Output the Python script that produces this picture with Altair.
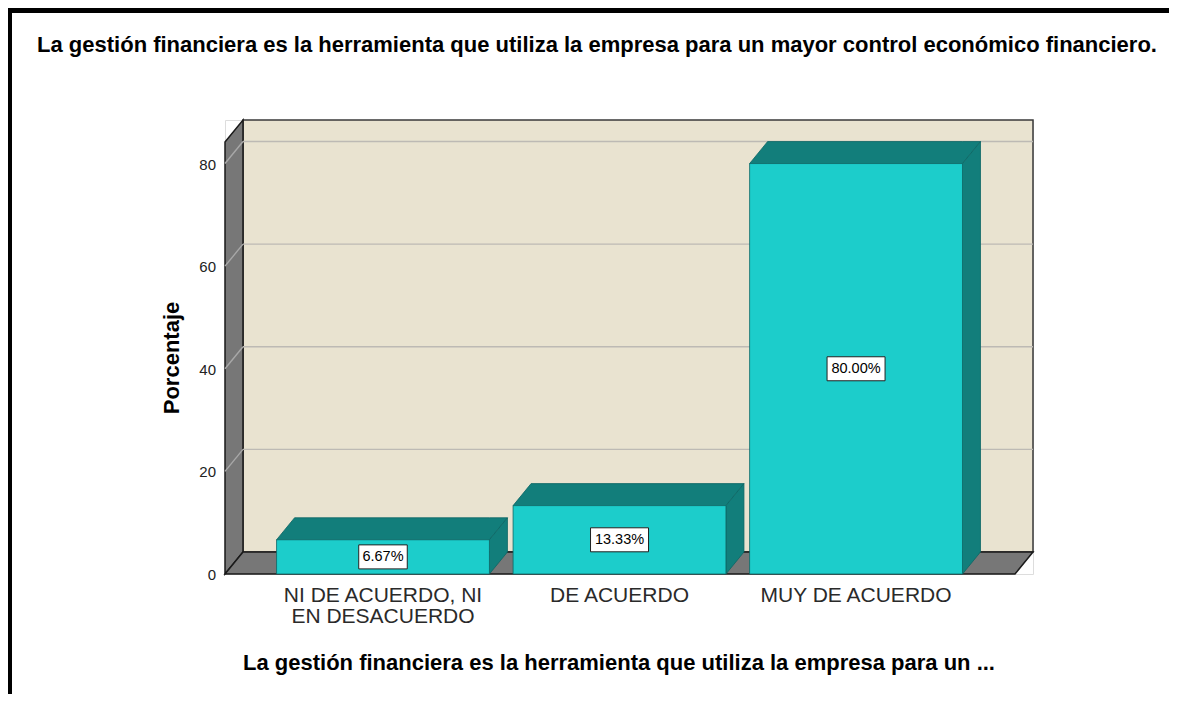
import textwrap
import altair as alt
import pandas as pd

# ---------------- data ----------------
categories = ["NI DE ACUERDO, NI EN DESACUERDO", "DE ACUERDO", "MUY DE ACUERDO"]
percentages = [6.67, 13.33, 80.00]
value_labels = ["6.67%", "13.33%", "80.00%"]
y_ticks = [0, 20, 40, 60, 80]

TITLE = "La gestión financiera es la herramienta que utiliza la empresa para un mayor control económico financiero."
X_TITLE = "La gestión financiera es la herramienta que utiliza la empresa para un ..."
Y_TITLE = "Porcentaje"

FONT = "Liberation Sans"

# ---------------- geometry (scale units) ----------------
STEP = 236.5          # px per category step
PXY = 5.13            # px per percent
PAD = 0.668           # outer padding (in steps) to first category centre
HALF = 0.45           # half bar width in steps
XF = 3.34             # front right edge of the frame
DX = 18 / STEP        # 3D depth, x
DY = 22 / PXY         # 3D depth, y
YF = 84.2             # front top of frame
X_MAX = XF + DX
Y_MAX = YF + DY
W = round(X_MAX * STEP)
H = round(Y_MAX * PXY)

xs = alt.Scale(domain=[0, X_MAX], nice=False, zero=False)
ys = alt.Scale(domain=[0, Y_MAX], nice=False, zero=False)

FRONT = "#1ccdcb"
DARK = "#127e7b"
EDGE = "#0d6664"
WALL = "#777777"
BACK = "#e9e3d0"
GRID = "#bdbab4"

centers = [PAD + i for i in range(len(categories))]

bars = pd.DataFrame({
    "cat": categories,
    "label": ["\n".join(textwrap.wrap(c, 18)) for c in categories],
    "pct": percentages,
    "vlabel": value_labels,
    "c": centers,
})
bars["x0"] = bars["c"] - HALF
bars["x1"] = bars["c"] + HALF
bars["zero"] = 0.0
bars["mid"] = bars["pct"] / 2
bars["bx0"] = bars["c"] - (bars["vlabel"].str.len() * 9.5 + 1) / 2 / STEP
bars["bx1"] = bars["c"] + (bars["vlabel"].str.len() * 9.5 + 1) / 2 / STEP

# polygons as areas (x, y upper, y2 lower)
rows = []
for _, r in bars.iterrows():
    h = r["pct"]
    name = r["cat"]
    x0, x1 = r["x0"], r["x1"]
    for x, y, y2 in [(x0, h, h), (x0 + DX, h + DY, h), (x1, h + DY, h), (x1 + DX, h + DY, h + DY)]:
        rows.append({"id": "top_" + name, "x": x, "y": y, "y2": y2})
    for x, y, y2 in [(x1, h, 0), (x1 + DX, h + DY, DY)]:
        rows.append({"id": "side_" + name, "x": x, "y": y, "y2": y2})
faces = pd.DataFrame(rows)

walls_left = pd.DataFrame([
    {"id": "left", "x": 0, "y": YF, "y2": 0},
    {"id": "left", "x": DX, "y": YF + DY, "y2": DY},
])
floor = pd.DataFrame([
    {"id": "floor", "x": 0, "y": 0, "y2": 0},
    {"id": "floor", "x": DX, "y": DY, "y2": 0},
    {"id": "floor", "x": XF, "y": DY, "y2": 0},
    {"id": "floor", "x": XF + DX, "y": DY, "y2": DY},
])
back = pd.DataFrame([{"x": DX, "x2": X_MAX, "y": DY, "y2": Y_MAX}])
ticks = pd.DataFrame({"v": y_ticks})
grid = pd.DataFrame({"v": [t for t in y_ticks if t > 0]})
grid["vb"] = grid["v"] + DY
grid["x0"] = 0.0
grid["xb"] = DX
grid["xe"] = X_MAX

X = lambda f: alt.X(f, scale=xs, axis=None)
Y = lambda f: alt.Y(f, scale=ys, axis=None, stack=None)


def area(df, fill, stroke, sw=1.0):
    return alt.Chart(df).mark_area(fill=fill, stroke=stroke, strokeWidth=sw, interpolate="linear").encode(
        x=X("x:Q"), y=Y("y:Q"), y2="y2:Q", detail="id:N"
    )


back_wall = alt.Chart(back).mark_rect(fill=BACK, stroke="#3a3a3a", strokeWidth=1.5).encode(
    x=X("x:Q"), x2="x2:Q", y=Y("y:Q"), y2="y2:Q"
)
left_wall = area(walls_left, WALL, "#1a1a1a", 1.5)
floor_l = area(floor, WALL, "#1a1a1a", 1.5)

grid_h = alt.Chart(grid).mark_rule(color=GRID, strokeWidth=1.4).encode(
    x=X("xb:Q"), x2="xe:Q", y=Y("vb:Q")
)
grid_d = alt.Chart(grid).mark_rule(color="#a8a8a8", strokeWidth=1.4).encode(
    x=X("x0:Q"), x2="xb:Q", y=Y("v:Q"), y2="vb:Q"
)

bar_faces = area(faces, DARK, EDGE, 0.8)

front = alt.Chart(bars).mark_rect(fill=FRONT, stroke=EDGE, strokeWidth=0.8).encode(
    x=X("x0:Q"), x2="x1:Q", y=Y("zero:Q"), y2="pct:Q",
)

label_box = alt.Chart(bars).mark_rect(fill="white", stroke="#222222", strokeWidth=1, yOffset=-12, y2Offset=12).encode(
    x=X("bx0:Q"), x2="bx1:Q", y=Y("mid:Q"), y2="mid:Q"
)
label_txt = alt.Chart(bars).mark_text(font=FONT, fontSize=14.5, color="#000000", baseline="middle").encode(
    x=X("c:Q"), y=Y("mid:Q"), text="vlabel:N"
)

cat_labels = alt.Chart(bars).mark_text(
    font=FONT, fontSize=21, color="#2a2a2a", baseline="top", lineBreak="\n", lineHeight=21, dy=11
).encode(x=X("c:Q"), y=Y("zero:Q"), text="label:N")

tick_labels = alt.Chart(ticks).mark_text(
    font=FONT, fontSize=15, color="#222222", align="right", baseline="middle", dx=-9, dy=1
).encode(x=alt.value(0), y=Y("v:Q"), text="v:Q")

one = pd.DataFrame({"k": [0]})
title_txt = alt.Chart(one).mark_text(
    font=FONT, fontSize=22, fontWeight="bold", color="#000000", align="center", baseline="middle", text=TITLE
).encode(x=alt.value(372), y=alt.value(-75))
xtitle_txt = alt.Chart(one).mark_text(
    font=FONT, fontSize=22, fontWeight="bold", color="#000000", align="center", baseline="middle", text=X_TITLE
).encode(x=alt.value(394), y=alt.value(89 + H))
ytitle_txt = alt.Chart(one).mark_text(
    font=FONT, fontSize=22, fontWeight="bold", color="#000000", align="center", baseline="middle",
    angle=270, text=Y_TITLE
).encode(x=alt.value(-53), y=alt.value(238))

border_left = alt.Chart(one).mark_rule(color="black", strokeWidth=5).encode(
    x=alt.value(-215.5), y=alt.value(-112), y2=alt.value(574)
)
border_top = alt.Chart(one).mark_rule(color="black", strokeWidth=5).encode(
    x=alt.value(-217), x2=alt.value(944), y=alt.value(-109.5)
)

chart = alt.layer(
    back_wall, left_wall, floor_l, grid_h, grid_d, bar_faces, front,
    label_box, label_txt, cat_labels, tick_labels,
    title_txt, xtitle_txt, ytitle_txt, border_left, border_top,
).properties(
    width=W, height=H,
    autosize="none",
    padding={"left": 217, "top": 112, "right": 1161 - 217 - W, "bottom": 686 - 112 - H},
).configure_view(stroke=None).configure(font=FONT, background="white")

chart.save("out.html", embed_options={"renderer": "svg", "actions": False})
